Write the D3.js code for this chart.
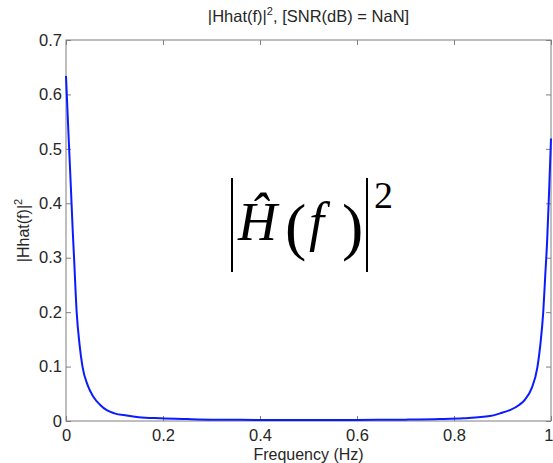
<!DOCTYPE html>
<html>
<head>
<meta charset="utf-8">
<script src="https://cdn.jsdelivr.net/npm/d3@7"></script>
<style>
  body { margin: 0; background: #fff; }
  svg { display: block; }
</style>
</head>
<body>
<div id="chart"></div>
<script>
// values
const freqs = [0, 0.005, 0.01, 0.0138, 0.0165, 0.022, 0.028, 0.034, 0.045, 0.056, 0.07, 0.084, 0.1, 0.125, 0.15, 0.194, 0.25, 0.3, 0.4, 0.5, 0.6, 0.7, 0.771, 0.82, 0.874, 0.895, 0.915, 0.935, 0.946, 0.96, 0.972, 0.978, 0.984, 0.988, 0.992, 0.996, 1];
const power = [0.634, 0.53, 0.43, 0.351, 0.302, 0.2, 0.14, 0.1, 0.065, 0.045, 0.03, 0.02, 0.014, 0.01, 0.007, 0.005, 0.0035, 0.0025, 0.002, 0.0018, 0.002, 0.0025, 0.0035, 0.005, 0.009, 0.014, 0.02, 0.03, 0.039, 0.06, 0.099, 0.14, 0.2, 0.265, 0.33, 0.42, 0.519];
const xTicks = [0, 0.2, 0.4, 0.6, 0.8, 1];
const yTicks = [0, 0.1, 0.2, 0.3, 0.4, 0.5, 0.6, 0.7];

const W = 553, H = 463;
const margin = { top: 40, right: 2, bottom: 42, left: 66 };
const width = W - margin.left - margin.right;
const height = H - margin.top - margin.bottom;

const color = {
  axis: '#7f7f7f',
  text: '#262626',
  line: '#0a1cff'
};

const svg = d3.select('#chart')
  .append('svg')
  .attr('width', W)
  .attr('height', H)
  .style('font-family', '"Liberation Sans", Arial, sans-serif');

const g = svg.append('g')
  .attr('transform', `translate(${margin.left}, ${margin.top})`);

const x = d3.scaleLinear().domain([0, 1]).range([0, width]);
const y = d3.scaleLinear().domain([0, 0.7]).range([height, 0]);

const fmt = (d) => (d === 0 ? '0' : d === 1 ? '1' : d3.format('.1f')(d));

// axes: bottom/left with labels, top/right ticks only
const styleAxis = (sel) => {
  sel.selectAll('.domain').remove();
  sel.selectAll('.tick line').attr('stroke', color.axis);
  sel.selectAll('.tick text').attr('fill', color.text).style('font-size', '16.5px');
};

const xAxis = g.append('g')
  .attr('transform', `translate(0, ${height})`)
  .call(d3.axisBottom(x).tickValues(xTicks).tickFormat(fmt).tickSizeInner(-5).tickSizeOuter(0).tickPadding(8))
  .call(styleAxis);

// last label sits at the window edge, keep it inside
xAxis.selectAll('.tick text')
  .filter((d) => d === 1)
  .attr('text-anchor', 'end')
  .attr('x', 2);

g.append('g')
  .call(d3.axisLeft(y).tickValues(yTicks).tickFormat(fmt).tickSizeInner(-5).tickSizeOuter(0).tickPadding(4))
  .call(styleAxis);

g.append('g')
  .call(d3.axisTop(x).tickValues(xTicks).tickFormat('').tickSizeInner(-5).tickSizeOuter(0))
  .call(styleAxis);

g.append('g')
  .attr('transform', `translate(${width}, 0)`)
  .call(d3.axisRight(y).tickValues(yTicks).tickFormat('').tickSizeInner(-5).tickSizeOuter(0))
  .call(styleAxis);

g.append('rect')
  .attr('width', width)
  .attr('height', height)
  .attr('fill', 'none')
  .attr('stroke', color.axis)
  .attr('stroke-width', 1);

// curve
const line = d3.line()
  .x((d, i) => x(freqs[i]))
  .y((d) => y(d))
  .curve(d3.curveMonotoneX);

g.append('path')
  .datum(power)
  .attr('d', line)
  .attr('fill', 'none')
  .attr('stroke', color.line)
  .attr('stroke-width', 2);

// title
const title = svg.append('text')
  .attr('x', margin.left + width / 2)
  .attr('y', 22)
  .attr('text-anchor', 'middle')
  .attr('fill', color.text)
  .style('font-size', '16.5px');
title.append('tspan').text('|Hhat(f)|');
title.append('tspan').attr('dy', -7).style('font-size', '11px').text('2');
title.append('tspan').attr('dy', 7).text(', [SNR(dB) = NaN]');

// x label
svg.append('text')
  .attr('x', margin.left + width / 2)
  .attr('y', 460)
  .attr('text-anchor', 'middle')
  .attr('fill', color.text)
  .style('font-size', '16px')
  .text('Frequency (Hz)');

// y label
const ylab = svg.append('text')
  .attr('transform', `translate(29, ${margin.top + height / 2}) rotate(-90)`)
  .attr('text-anchor', 'middle')
  .attr('fill', color.text)
  .style('font-size', '16px');
ylab.append('tspan').text('|Hhat(f)|');
ylab.append('tspan').attr('dy', -7).style('font-size', '11px').text('2');

// big annotation |Ĥ(f)|², placed in page pixels
const ann = svg.append('g').attr('fill', '#000')
  .style('font-family', '"Liberation Serif", "Times New Roman", serif');
[232, 367].forEach((bx) => {
  ann.append('line')
    .attr('x1', bx).attr('x2', bx)
    .attr('y1', 178).attr('y2', 272)
    .attr('stroke', '#000').attr('stroke-width', 2);
});
ann.append('text').attr('x', 238).attr('y', 240)
  .style('font-size', '54px').style('font-style', 'italic').text('\u0124');
ann.append('text').attr('x', 285).attr('y', 248)
  .style('font-size', '64px').text('(');
ann.append('text').attr('x', 309).attr('y', 240)
  .style('font-size', '54px').style('font-style', 'italic').text('f');
ann.append('text').attr('x', 342).attr('y', 248)
  .style('font-size', '64px').text(')');
ann.append('text').attr('x', 374).attr('y', 208)
  .style('font-size', '38px').text('2');
</script>
</body>
</html>
